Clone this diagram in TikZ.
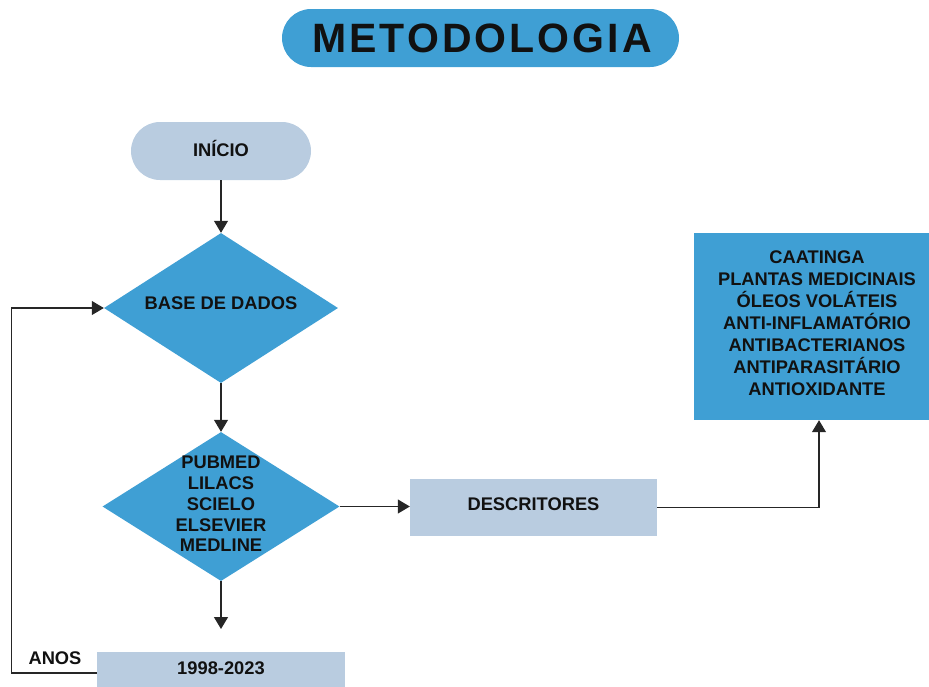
\documentclass[tikz,border=0pt]{standalone}
\usepackage{fontspec}
\setmainfont{Liberation Sans}
\usetikzlibrary{shapes.geometric,arrows.meta}
\definecolor{dblue}{HTML}{3F9FD4}
\definecolor{lblue}{HTML}{B9CCE0}
\definecolor{ink}{HTML}{111111}
\begin{document}
\begin{tikzpicture}[x=1pt,y=-1pt,
 lbl/.style={font=\bfseries\fontsize{18.3}{21.5}\selectfont, text=ink, align=center, inner sep=0},
 pill/.style={fill=lblue, rounded corners=29pt, minimum width=180pt, minimum height=58pt, inner sep=0},
 box/.style={fill=lblue, rectangle, inner sep=0},
 dia/.style={diamond, fill=dblue, inner sep=0},
 conn/.style={line width=1.2pt, draw=black!85},
 arr/.style={conn, -{Triangle[width=14pt,length=12pt]}}]
\clip (0,0) rectangle (929,686);
% title
\node[fill=dblue, rounded corners=29pt, minimum width=397pt, minimum height=58pt, inner sep=0] (title) at (480.5,38) {};
\node[font=\bfseries\fontsize{41}{44}\selectfont\addfontfeature{LetterSpace=7.5}, text=ink, inner sep=0] (titletxt) at (482,38) {METODOLOGIA};
% start
\node[pill] (inicio) at (221,151) {};
\node[lbl] (iniciotxt) at (221,148) {INÍCIO};
% diamond 1
\node[dia, minimum width=234pt, minimum height=150pt] (base) at (221,308) {};
\node[lbl] (basetxt) at (221,303) {BASE DE DADOS};
% diamond 2
\node[dia, minimum width=237pt, minimum height=149pt] (bases) at (221,506.5) {};
\node[lbl, font=\bfseries\fontsize{18.3}{20.8}\selectfont] (basestxt) at (221,504) {PUBMED\\LILACS\\SCIELO\\ELSEVIER\\MEDLINE};
% descritores
\node[box, minimum width=247pt, minimum height=57pt] (desc) at (533.5,507.5) {};
\node[lbl] (desctxt) at (533.5,504) {DESCRITORES};
% terms
\node[box, fill=dblue, minimum width=246pt, minimum height=187pt] (terms) at (817,326.5) {};
\node[lbl, font=\bfseries\fontsize{18.3}{22}\selectfont] (termstxt) at (817,323) {CAATINGA\\PLANTAS MEDICINAIS\\ÓLEOS VOLÁTEIS\\ANTI-INFLAMATÓRIO\\ANTIBACTERIANOS\\ANTIPARASITÁRIO\\ANTIOXIDANTE};
% years
\node[box, minimum width=248pt, minimum height=58pt] (years) at (221,681) {};
\node[lbl] (yearstxt) at (221,668) {1998-2023};
\node[lbl] (anos) at (55,658) {ANOS};
\coordinate (yearsin) at (221,629);
% connectors
\draw[arr] (inicio.south) -- (base.north);
\draw[arr] (base.south) -- (bases.north);
\draw[arr] (bases.east) -- (bases.east -| desc.west);
\draw[arr] (desc.east) -| ([xshift=2pt]terms.south);
\draw[arr] (bases.south) -- (yearsin);
\draw[arr] ([yshift=8pt]years.west) -- ++(-85,0) |- (base.west);
\end{tikzpicture}
\end{document}
